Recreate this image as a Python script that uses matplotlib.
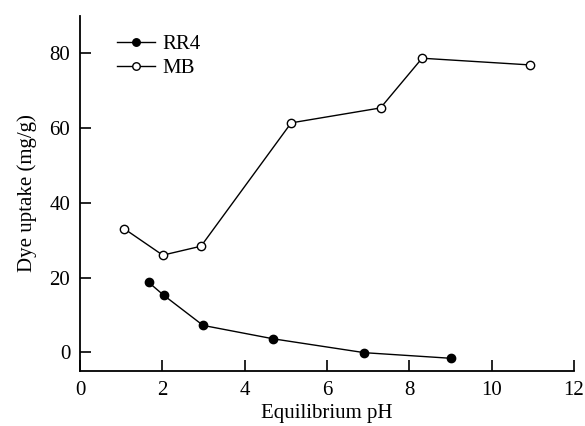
import matplotlib
matplotlib.use('Agg')
import matplotlib.pyplot as plt

plt.rcParams['font.family'] = 'Liberation Serif'

# RR4 uptake vs equilibrium pH
ph_rr4 = [1.67, 2.03, 2.99, 4.70, 6.91, 9.01]
up_rr4 = [18.7, 15.3, 7.2, 3.6, -0.1, -1.6]

# MB uptake vs equilibrium pH
ph_mb = [1.07, 2.01, 2.94, 5.13, 7.30, 8.31, 10.94]
up_mb = [33.1, 26.0, 28.4, 61.4, 65.4, 78.7, 76.9]

fig = plt.figure(figsize=(5.85, 4.26), dpi=100)
ax = fig.add_axes([80/585, 1-371/426, (574-80)/585, (371-16)/426])

ax.plot(ph_rr4, up_rr4, '-o', color='black', lw=1, ms=6, mfc='black', label='RR4')
ax.plot(ph_mb, up_mb, '-o', color='black', lw=1, ms=6, mfc='white', label='MB')

ax.set_xlim(0, 12)
ax.set_ylim(-5, 90)
ax.set_xticks([0, 2, 4, 6, 8, 10, 12])
ax.set_yticks([0, 20, 40, 60, 80])
ax.spines['top'].set_visible(False)
ax.spines['right'].set_visible(False)
for s in ['left', 'bottom']:
    ax.spines[s].set_linewidth(1.3)
ax.tick_params(direction='in', length=8, width=1.2, labelsize=15, pad=7)

ax.set_xlabel('Equilibrium pH', fontsize=15, labelpad=3)
ax.set_ylabel('Dye uptake (mg/g)', fontsize=15, labelpad=9)

ax.legend(loc='upper left', bbox_to_anchor=(0.037, 1.0), frameon=False,
          fontsize=15, handlelength=1.8, handletextpad=0.4, labelspacing=0.2,
          markerscale=0.9)

fig.savefig('out.png', dpi=100)
